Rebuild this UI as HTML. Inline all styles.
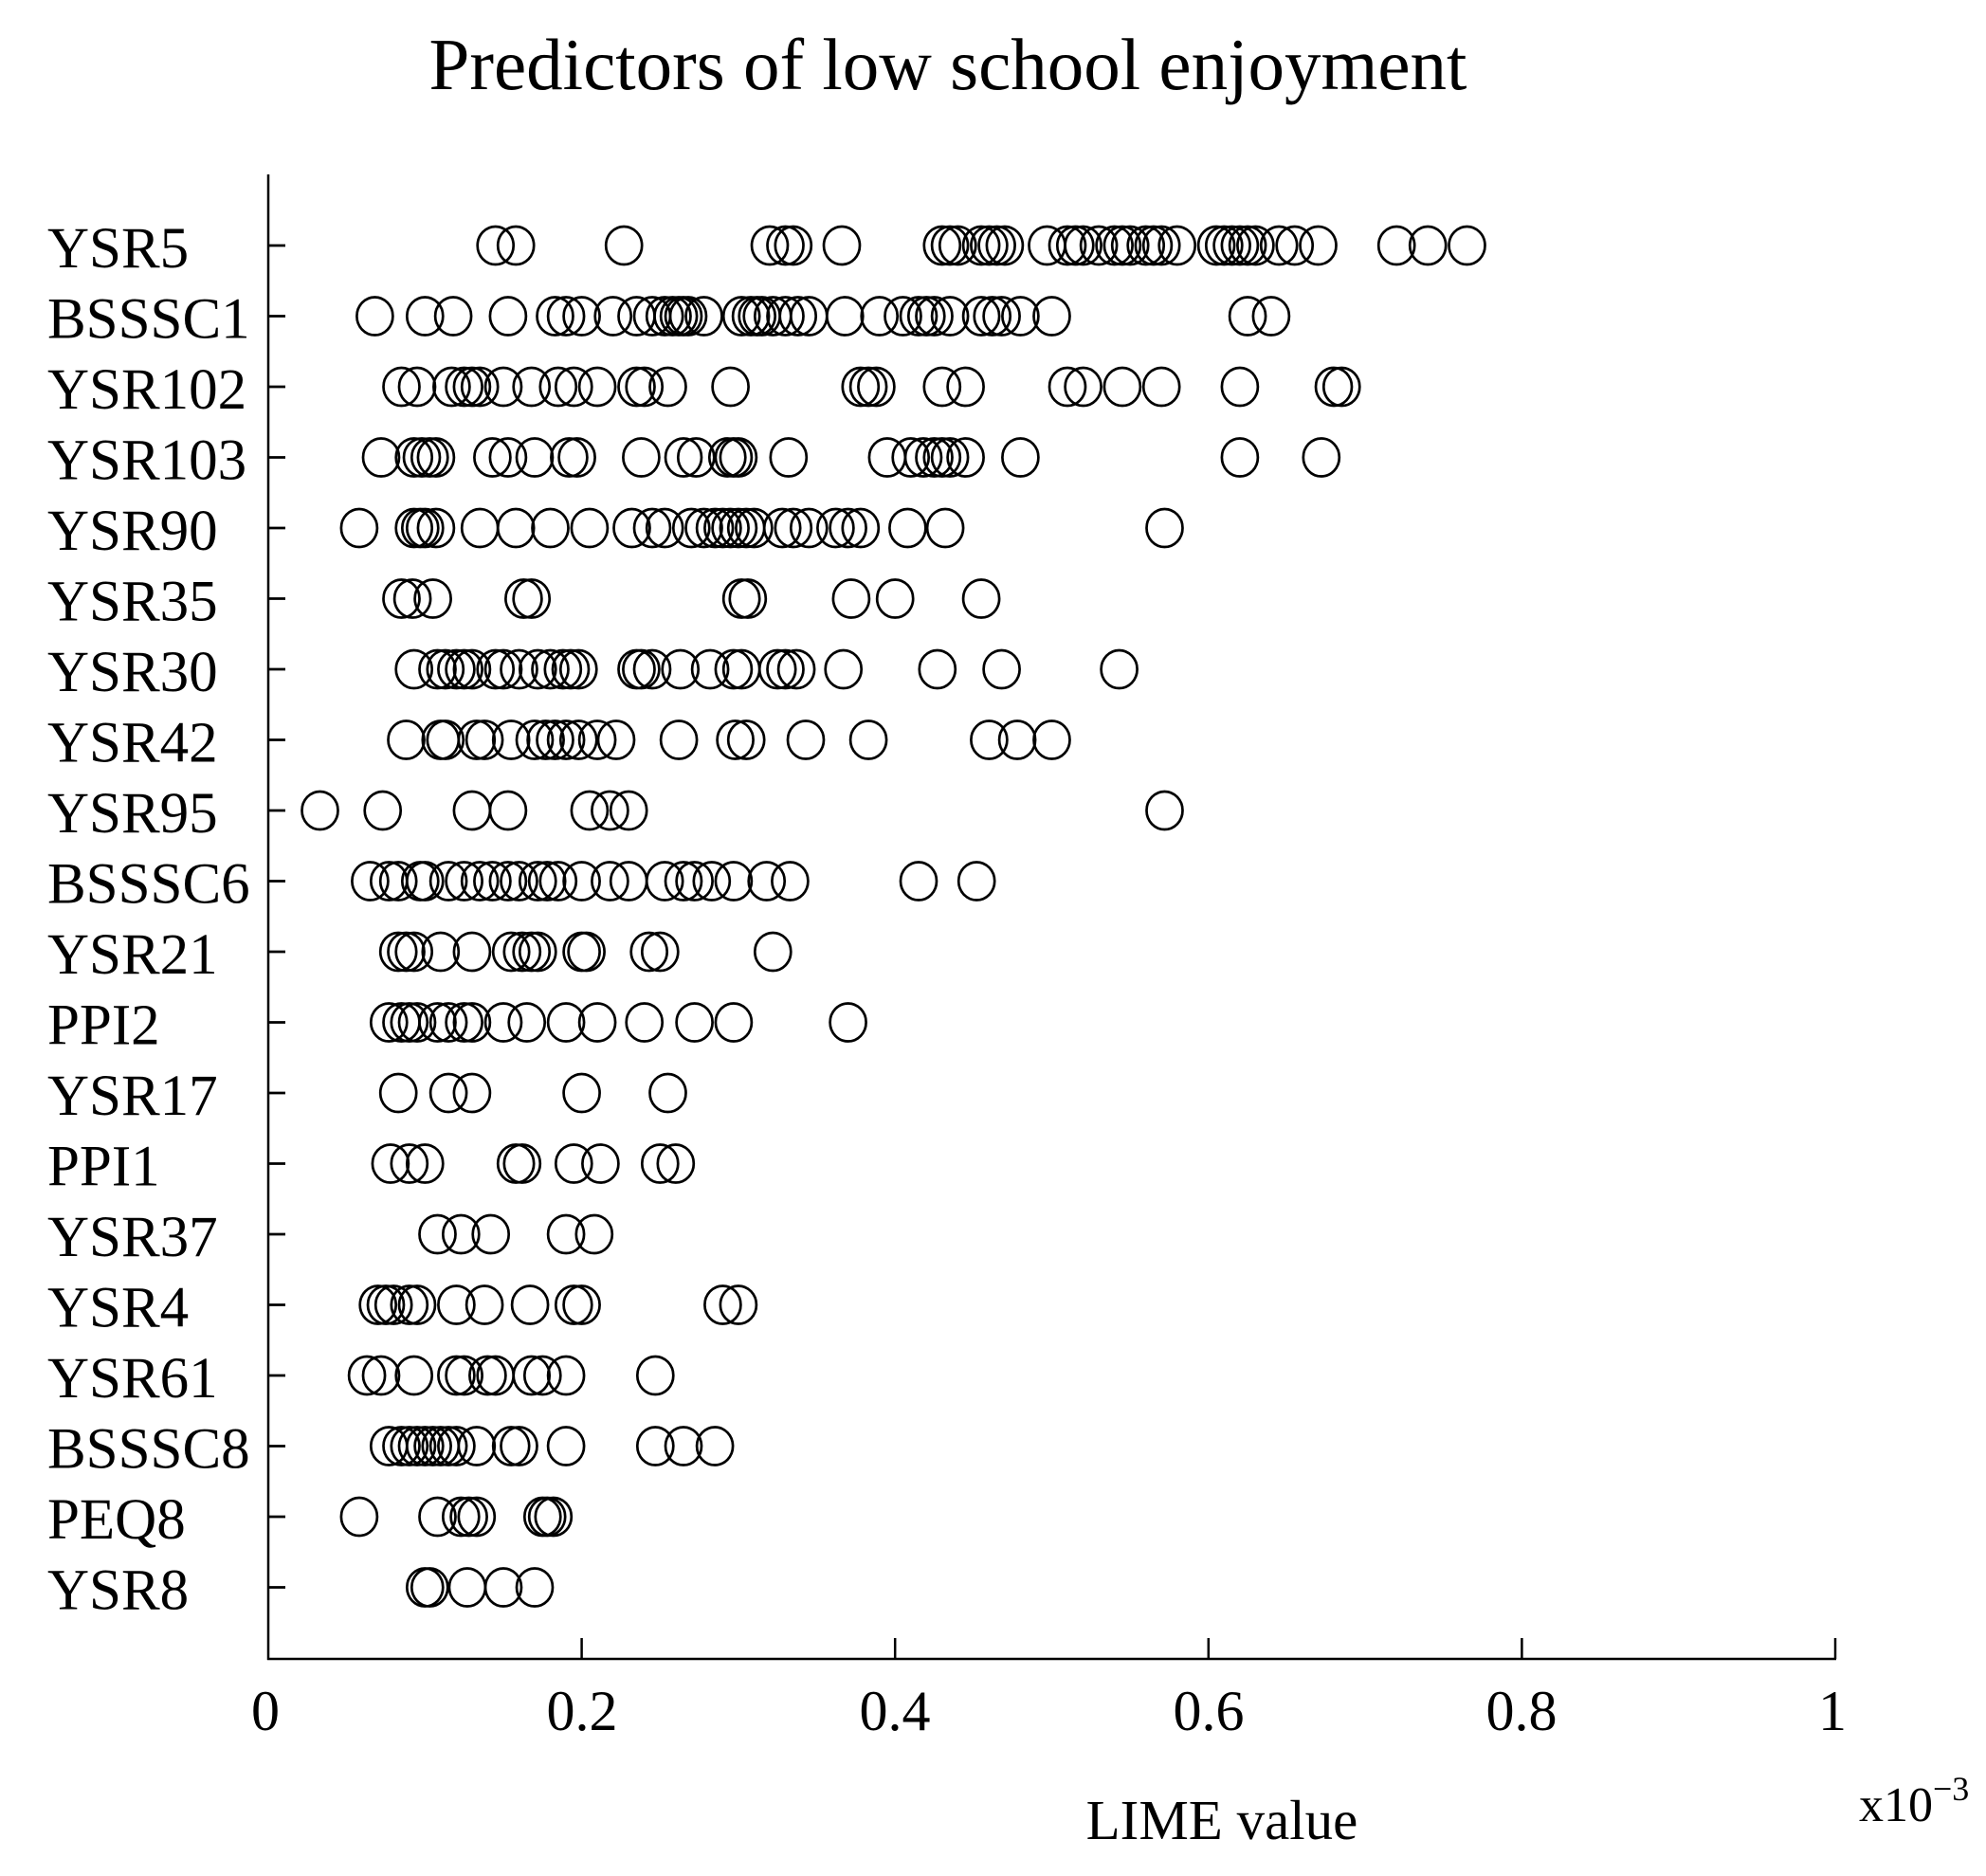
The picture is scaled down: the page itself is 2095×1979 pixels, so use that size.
<!DOCTYPE html>
<html><head><meta charset="utf-8"><style>
html,body{margin:0;padding:0;background:#fff;}
svg{display:block;}
text{font-family:"Liberation Serif",serif;fill:#000;}
</style></head><body>
<svg id="s" width="2095" height="1979" viewBox="0 0 2095 1979" xmlns="http://www.w3.org/2000/svg">
<rect width="2095" height="1979" fill="#fff"/>
<text x="1000" y="94" font-size="77" text-anchor="middle">Predictors of low school enjoyment</text>
<g stroke="#000" stroke-width="2.5" fill="none">
<line x1="283" y1="184" x2="283" y2="1751"/>
<line x1="282" y1="1750" x2="1937" y2="1750"/>
<line x1="613.6" y1="1750" x2="613.6" y2="1728"/>
<line x1="944.2" y1="1750" x2="944.2" y2="1728"/>
<line x1="1274.8" y1="1750" x2="1274.8" y2="1728"/>
<line x1="1605.4" y1="1750" x2="1605.4" y2="1728"/>
<line x1="1936" y1="1750" x2="1936" y2="1728"/>
</g>
<g font-size="60" text-anchor="middle">
<text x="280" y="1825">0</text>
<text x="614" y="1825">0.2</text>
<text x="944" y="1825">0.4</text>
<text x="1275" y="1825">0.6</text>
<text x="1605" y="1825">0.8</text>
<text x="1933" y="1825">1</text>
</g>
<text x="1289" y="1940" font-size="59" text-anchor="middle">LIME value</text>
<text x="1961" y="1921" font-size="52">x10<tspan dy="-22" font-size="36">−3</tspan></text>
<g id="labels" font-size="61"></g>
<g id="pts" stroke="#000" stroke-width="2.7" fill="none"></g>
</svg>
<script>
var names=["YSR5","BSSSC1","YSR102","YSR103","YSR90","YSR35","YSR30","YSR42","YSR95","BSSSC6","YSR21","PPI2","YSR17","PPI1","YSR37","YSR4","YSR61","BSSSC8","PEQ8","YSR8"];
var data=[
[0.145,0.158,0.227,0.32,0.33,0.335,0.366,0.43,0.435,0.44,0.455,0.46,0.465,0.47,0.497,0.51,0.515,0.52,0.53,0.54,0.545,0.55,0.56,0.565,0.57,0.58,0.605,0.61,0.615,0.62,0.625,0.63,0.645,0.655,0.67,0.72,0.74,0.765],
[0.068,0.1,0.118,0.153,0.183,0.19,0.2,0.22,0.235,0.245,0.253,0.258,0.262,0.265,0.268,0.278,0.302,0.308,0.312,0.315,0.322,0.33,0.338,0.345,0.368,0.39,0.405,0.415,0.42,0.425,0.435,0.455,0.462,0.468,0.48,0.5,0.625,0.64],
[0.085,0.095,0.117,0.125,0.13,0.135,0.15,0.168,0.185,0.195,0.21,0.235,0.24,0.255,0.295,0.378,0.383,0.388,0.43,0.445,0.51,0.52,0.545,0.57,0.62,0.68,0.685],
[0.072,0.093,0.098,0.103,0.107,0.143,0.153,0.17,0.192,0.197,0.238,0.265,0.273,0.293,0.297,0.3,0.332,0.395,0.41,0.418,0.425,0.43,0.435,0.445,0.48,0.62,0.672],
[0.058,0.093,0.097,0.1,0.107,0.135,0.158,0.18,0.205,0.232,0.245,0.253,0.27,0.278,0.285,0.29,0.295,0.3,0.305,0.31,0.328,0.335,0.345,0.362,0.37,0.378,0.408,0.432,0.572],
[0.085,0.092,0.105,0.163,0.168,0.302,0.306,0.372,0.4,0.455],
[0.093,0.108,0.113,0.12,0.125,0.13,0.145,0.15,0.16,0.172,0.18,0.188,0.193,0.198,0.235,0.238,0.245,0.263,0.282,0.297,0.302,0.325,0.33,0.337,0.367,0.427,0.468,0.543],
[0.088,0.11,0.113,0.133,0.138,0.155,0.17,0.177,0.183,0.19,0.198,0.21,0.222,0.262,0.298,0.305,0.343,0.383,0.46,0.478,0.5],
[0.033,0.073,0.13,0.153,0.205,0.218,0.23,0.572],
[0.065,0.077,0.083,0.097,0.1,0.115,0.125,0.135,0.143,0.153,0.16,0.172,0.178,0.185,0.2,0.218,0.23,0.253,0.265,0.272,0.283,0.297,0.318,0.333,0.415,0.452],
[0.083,0.088,0.093,0.11,0.13,0.155,0.162,0.168,0.172,0.2,0.203,0.243,0.25,0.322],
[0.077,0.085,0.09,0.095,0.108,0.115,0.125,0.13,0.15,0.165,0.19,0.21,0.24,0.272,0.297,0.37],
[0.083,0.115,0.13,0.2,0.255],
[0.078,0.09,0.1,0.158,0.162,0.195,0.212,0.25,0.26],
[0.108,0.123,0.142,0.19,0.208],
[0.07,0.075,0.08,0.09,0.095,0.12,0.138,0.167,0.195,0.2,0.29,0.3],
[0.063,0.072,0.093,0.12,0.125,0.14,0.145,0.168,0.175,0.19,0.247],
[0.077,0.085,0.09,0.095,0.1,0.105,0.11,0.115,0.12,0.133,0.155,0.16,0.19,0.247,0.265,0.285],
[0.058,0.108,0.123,0.128,0.133,0.175,0.178,0.182],
[0.1,0.103,0.127,0.15,0.17]];
var NS="http://www.w3.org/2000/svg";
var L=document.getElementById("labels"),P=document.getElementById("pts");
for(var i=0;i<20;i++){
  var y=259+i*74.5;
  var t=document.createElementNS(NS,"text");t.setAttribute("x","50");t.setAttribute("y",(y+23).toFixed(1));t.textContent=names[i];L.appendChild(t);
  var tk=document.createElementNS(NS,"line");tk.setAttribute("x1","283");tk.setAttribute("x2","301");tk.setAttribute("y1",y);tk.setAttribute("y2",y);P.appendChild(tk);
  data[i].forEach(function(v){var e=document.createElementNS(NS,"ellipse");e.setAttribute("cx",(283+v*1653).toFixed(1));e.setAttribute("cy",y.toFixed(1));e.setAttribute("rx","19");e.setAttribute("ry","20");P.appendChild(e);});
}
</script>
</body></html>
